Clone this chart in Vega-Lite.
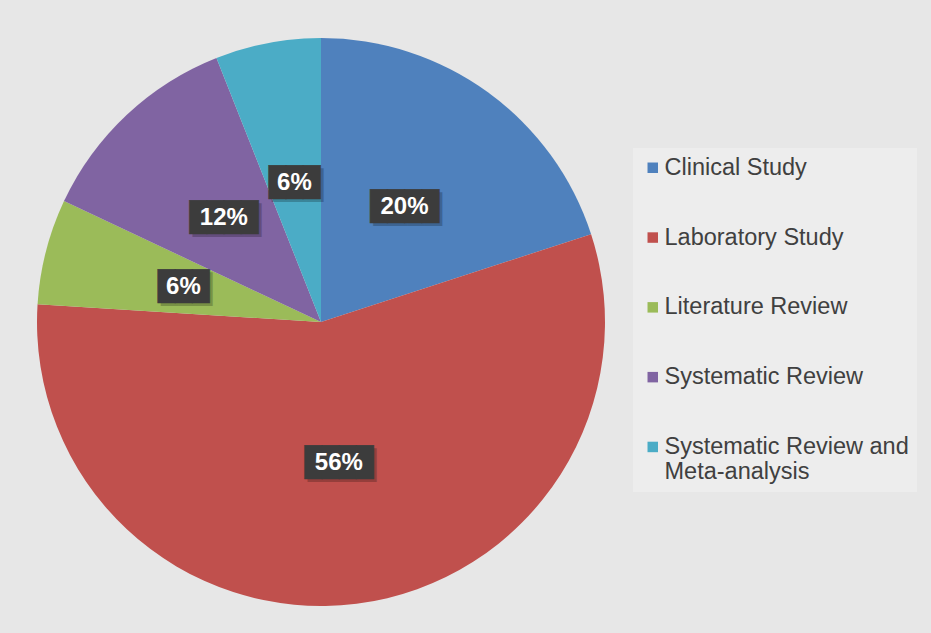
{
  "$schema": "https://vega.github.io/schema/vega-lite/v6.json",
  "width": 568,
  "height": 568,
  "autosize": {"type": "none"},
  "padding": {"left": 37, "top": 38, "right": 326, "bottom": 27},
  "background": "#e7e7e7",
  "config": {"view": {"stroke": null}},
  "data": {
    "values": [
      {"idx": 1, "category": "Clinical Study", "share": 0.20},
      {"idx": 2, "category": "Laboratory Study", "share": 0.56},
      {"idx": 3, "category": "Literature Review", "share": 0.06},
      {"idx": 4, "category": "Systematic Review", "share": 0.12},
      {"idx": 5, "category": "Systematic Review and Meta-analysis", "share": 0.06}
    ]
  },
  "encoding": {
    "theta": {"field": "share", "type": "quantitative", "stack": true},
    "order": {"field": "idx", "type": "quantitative", "sort": "ascending"}
  },
  "layer": [
    {
      "mark": {"type": "arc", "outerRadius": 284},
      "encoding": {
        "color": {
          "field": "category",
          "type": "nominal",
          "scale": {
            "domain": ["Clinical Study", "Laboratory Study", "Literature Review", "Systematic Review", "Systematic Review and Meta-analysis"],
            "range": ["#4f81bd", "#c0504d", "#9bbb59", "#8064a2", "#4bacc6"]
          },
          "legend": {
            "orient": "none",
            "legendX": 596,
            "legendY": 110,
            "title": null,
            "symbolType": "square",
            "symbolSize": 110,
            "symbolStrokeWidth": 0,
            "labelFont": "Liberation Sans",
            "labelFontSize": 23.5,
            "labelColor": "#404040",
            "labelLimit": 400,
            "labelOffset": 0,
            "rowPadding": 44.8,
            "padding": 8,
            "fillColor": "#ededed",
            "labelExpr": "datum.label == 'Systematic Review and Meta-analysis' ? ['Systematic Review and', 'Meta-analysis'] : datum.label"
          }
        }
      }
    },
    {
      "mark": {"type": "text", "radius": 142, "font": "DejaVu Sans Mono", "fontSize": 28.5, "align": "center", "baseline": "middle", "dx": 3, "dy": 3, "opacity": 0.22},
      "encoding": {
        "detail": {"field": "category", "type": "nominal"},
        "color": {"value": "#000000"},
        "text": {"condition": {"test": "datum.share >= 0.1", "value": "████"}, "value": "███"}
      }
    },
    {
      "mark": {"type": "text", "radius": 142, "font": "DejaVu Sans Mono", "fontSize": 28.5, "align": "center", "baseline": "middle", "stroke": "#3c3c3c", "strokeWidth": 0.6},
      "encoding": {
        "detail": {"field": "category", "type": "nominal"},
        "color": {"value": "#3c3c3c"},
        "text": {"condition": {"test": "datum.share >= 0.1", "value": "████"}, "value": "███"}
      }
    },
    {
      "mark": {"type": "text", "radius": 142, "font": "Liberation Sans", "fontSize": 24, "fontWeight": "bold", "align": "center", "baseline": "middle"},
      "encoding": {
        "detail": {"field": "category", "type": "nominal"},
        "color": {"value": "#ffffff"},
        "text": {"field": "share", "type": "quantitative", "format": ".0%"}
      }
    }
  ]
}
